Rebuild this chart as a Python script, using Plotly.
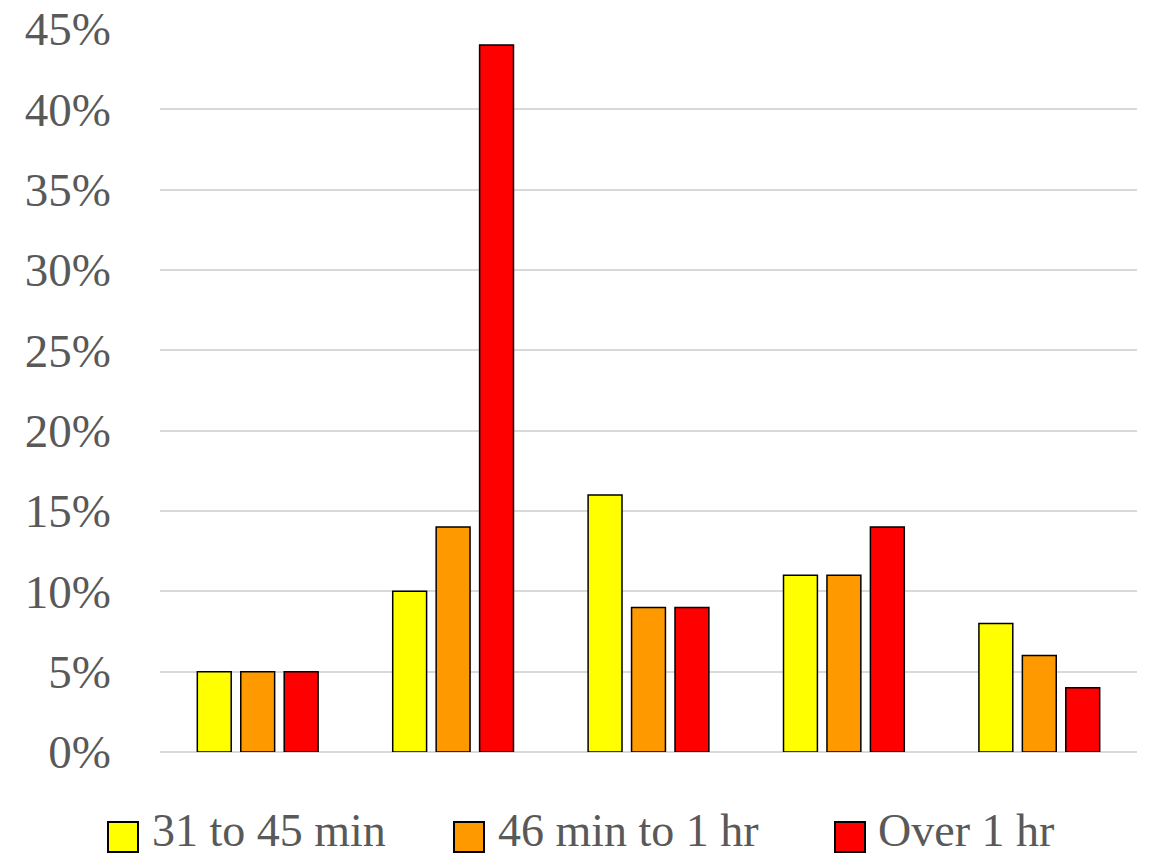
import plotly.graph_objects as go

categories = ["Group 1", "Group 2", "Group 3", "Group 4", "Group 5"]
series_names = ["31 to 45 min", "46 min to 1 hr", "Over 1 hr"]
s1 = [5, 10, 16, 11, 8]
s2 = [5, 14, 9, 11, 6]
s3 = [5, 44, 9, 14, 4]
colors = ["#FFFF00", "#FF9900", "#FF0000"]
y_ticks = [0, 5, 10, 15, 20, 25, 30, 35, 40, 45]
y_tick_labels = [f"{v}%" for v in y_ticks]

W, H = 1150, 858
L, R, T, B = 160, 13, 29, 106
FONT = "Liberation Serif"
TXT = "#595959"

fig = go.Figure()
for name, vals, col in zip(series_names, [s1, s2, s3], colors):
    fig.add_trace(go.Bar(
        x=categories, y=vals, name=name,
        marker=dict(color=col, line=dict(color="#000000", width=1.5)),
        showlegend=False,
    ))

pw = W - L - R
ph = H - T - B
def px2x(px):
    return (px - L) / pw
def px2y(py):
    return (H - B - py) / ph

# manual legend (large square swatches)
legend_sq = [(108, 822), (454, 822), (835, 822)]
legend_txt_x = [150, 496, 876]
sq = 30
for (sx, sy), tx, name, col in zip(legend_sq, legend_txt_x, series_names, colors):
    fig.add_shape(type="rect", xref="paper", yref="paper",
                  x0=px2x(sx), x1=px2x(sx + sq), y0=px2y(sy + sq), y1=px2y(sy),
                  fillcolor=col, line=dict(color="#000000", width=2))
    fig.add_annotation(xref="paper", yref="paper", x=px2x(tx), y=px2y(830),
                       text=name, showarrow=False, xanchor="left", yanchor="middle",
                       font=dict(family=FONT, size=46, color=TXT))

fig.update_layout(
    width=W, height=H,
    margin=dict(l=L, r=R, t=T, b=B, autoexpand=False),
    paper_bgcolor="white", plot_bgcolor="white",
    barmode="group", bargap=0.333, bargroupgap=0.22,
    font=dict(family=FONT, size=47, color=TXT),
    xaxis=dict(showticklabels=False, showgrid=False, zeroline=False, showline=False,
               ticks="", automargin=False),
    yaxis=dict(range=[0, 45], tickvals=y_ticks, ticktext=y_tick_labels,
               showgrid=True, gridcolor="#D9D9D9", gridwidth=1.5,
               zeroline=True, zerolinecolor="#D9D9D9", zerolinewidth=1.5,
               showline=False, ticks="", ticklabelstandoff=48, automargin=False,
               tickfont=dict(family=FONT, size=47, color=TXT)),
)

fig.write_html("out.html")
